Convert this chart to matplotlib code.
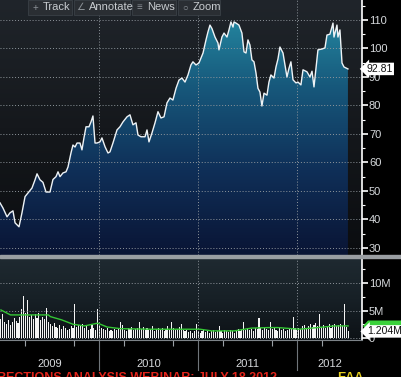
import matplotlib
matplotlib.use("Agg")
import matplotlib.pyplot as plt
import numpy as np
from matplotlib.colors import LinearSegmentedColormap
from matplotlib.patches import Rectangle, Polygon
from matplotlib.ticker import MultipleLocator, FixedLocator

plt.rcParams["font.family"] = ["Liberation Sans", "DejaVu Sans"]

# closing price, time in decimal years
price_t = [
    2009.000, 2009.030, 2009.071, 2009.101, 2009.131, 2009.152, 2009.192, 2009.222,
    2009.253, 2009.283, 2009.323, 2009.354, 2009.374, 2009.404, 2009.434, 2009.465,
    2009.505, 2009.535, 2009.566, 2009.586, 2009.606, 2009.636, 2009.667, 2009.687,
    2009.717, 2009.737, 2009.758, 2009.778, 2009.808, 2009.828, 2009.848, 2009.869,
    2009.899, 2009.919, 2009.939, 2009.960, 2009.980, 2010.010, 2010.030, 2010.061,
    2010.091, 2010.111, 2010.141, 2010.182, 2010.212, 2010.242, 2010.283, 2010.313,
    2010.343, 2010.374, 2010.394, 2010.424, 2010.465, 2010.485, 2010.505, 2010.535,
    2010.566, 2010.596, 2010.626, 2010.657, 2010.687, 2010.717, 2010.747, 2010.778,
    2010.808, 2010.838, 2010.869, 2010.899, 2010.929, 2010.949, 2010.980, 2011.010,
    2011.051, 2011.081, 2011.101, 2011.121, 2011.141, 2011.172, 2011.202, 2011.212,
    2011.242, 2011.263, 2011.293, 2011.313, 2011.333, 2011.354, 2011.364, 2011.384,
    2011.414, 2011.444, 2011.465, 2011.485, 2011.505, 2011.525, 2011.545, 2011.566,
    2011.586, 2011.606, 2011.626, 2011.646, 2011.667, 2011.697, 2011.717, 2011.737,
    2011.768, 2011.788, 2011.808, 2011.828, 2011.859, 2011.899, 2011.919, 2011.939,
    2011.960, 2011.990, 2012.010, 2012.040, 2012.061, 2012.101, 2012.131, 2012.152,
    2012.172, 2012.212, 2012.253, 2012.283, 2012.303, 2012.333, 2012.364, 2012.374,
    2012.404, 2012.414, 2012.434, 2012.455, 2012.475, 2012.515,
]
price = [
    45.8, 44.0, 40.9, 42.3, 43.0, 38.8, 37.4, 42.3,
    48.0, 49.3, 51.0, 53.9, 56.0, 53.9, 53.0, 49.6,
    49.6, 54.0, 55.0, 56.7, 55.0, 56.3, 56.7, 58.4,
    63.3, 66.1, 65.4, 66.8, 66.8, 64.4, 68.6, 72.5,
    72.5, 74.2, 76.3, 66.8, 66.8, 67.2, 68.6, 65.5,
    63.3, 63.7, 66.8, 71.4, 72.5, 74.2, 76.0, 76.7,
    73.2, 73.9, 69.6, 69.0, 69.0, 71.4, 67.2, 70.3,
    73.9, 77.8, 75.6, 76.0, 80.9, 82.6, 81.9, 86.0,
    88.9, 89.6, 88.2, 90.7, 94.2, 95.3, 94.2, 94.9,
    98.4, 103.0, 105.8, 108.2, 107.0, 104.0, 101.9, 99.5,
    104.0, 105.4, 104.0, 106.5, 109.3, 107.5, 109.3, 108.9,
    108.2, 105.4, 98.8, 98.4, 103.0, 101.2, 96.0, 95.3,
    91.4, 86.0, 84.7, 79.8, 84.3, 83.6, 88.2, 90.7,
    89.6, 93.5, 96.3, 100.5, 98.4, 90.0, 93.0, 95.3,
    89.0, 87.9, 88.2, 87.2, 92.5, 91.8, 90.0, 92.0,
    86.5, 99.5, 99.8, 100.2, 104.7, 105.0, 108.9, 104.0,
    108.2, 104.0, 106.5, 94.9, 93.5, 92.8,
]

# weekly volume, millions of shares, from the first week of 2009
volume = [
    3.5, 4.4, 3.0, 2.6, 3.2, 2.4, 2.9, 3.6, 3.1, 2.7, 3.9,
    5.3, 7.7, 4.6, 6.9,
    3.8, 4.2, 3.5, 4.4, 3.7, 4.6, 3.2, 3.9, 3.4, 5.4,
    3.0, 2.6, 2.2, 2.8, 2.0, 1.8, 2.4, 1.6, 2.1, 1.9, 1.5, 1.7, 2.2, 1.8,
    6.2,
    2.0, 2.3, 2.1, 2.5, 1.9, 2.2, 1.4, 1.6, 2.4, 1.8, 1.5,
    5.3,
    2.1, 1.8, 1.6, 1.4, 1.9, 1.3, 1.5, 1.2, 1.7, 1.4, 1.9,
    3.0,
    2.4, 1.5, 1.3, 1.8, 1.6, 2.0, 1.4, 1.7, 1.9,
    3.0,
    1.6, 2.0, 1.5, 1.8, 1.4, 1.7, 2.1, 1.3, 1.6, 1.9, 1.5, 1.8, 1.2, 1.6, 2.2, 1.5,
    3.0,
    1.8, 1.4, 1.6, 2.0,
    2.6,
    1.5, 1.2, 1.4, 1.1, 1.3, 1.0, 1.2,
    2.5,
    1.3, 1.0, 1.2, 1.4, 1.1, 1.3, 0.9, 1.2, 1.5, 1.1, 1.3,
    2.2,
    1.2, 1.0, 1.4, 1.3, 1.1, 1.5, 1.2, 1.0, 1.3, 1.6, 1.2, 1.4,
    2.9,
    1.5, 1.8, 1.4, 1.7, 1.3, 1.9, 1.6,
    3.7,
    1.8, 1.5, 2.0, 1.7, 1.4,
    3.0,
    1.6, 1.9, 1.5, 1.3, 1.8, 1.4, 1.7, 1.2, 1.5, 1.9, 1.6,
    3.9,
    1.8, 1.5, 1.9, 1.6, 2.1, 2.4, 1.8, 2.2, 2.6, 2.0, 2.3, 2.7, 2.1,
    4.4,
    2.0, 2.4, 1.8, 2.2, 2.6, 1.9, 2.3, 2.5, 2.1, 2.4, 2.6, 2.2,
    6.2, 2.0, 1.2,
]

# volume moving average (week index, millions)
ma_week = [0, 5, 10, 25, 26, 32, 38, 44, 51, 56, 63, 79, 105, 111, 123, 132,
           141, 146, 157, 167, 176, 183]
ma_vol = [5.1, 4.2, 4.2, 4.2, 3.9, 3.3, 2.5, 2.2, 2.7, 2.0, 1.7, 1.6, 1.6, 1.3,
          1.3, 1.8, 1.9, 1.9, 1.6, 1.9, 2.2, 2.2]

years = ["2009", "2010", "2011", "2012"]
year_pos = [2009.5, 2010.5, 2011.5, 2012.33]
year_bounds = [2010, 2011, 2012]
price_ticks = [30, 40, 50, 60, 70, 80, 90, 100, 110]
vol_ticks = [0, 5, 10]
vol_labels = ["0", "5M", "10M"]
last_price = 92.81
last_volume = 1.204

W, H = 402, 377
X0, X1 = 2009.0, 2012.657
TXT = "#d6d9dc"
GRID = "#8f969c"


def fx(px):
    return px / W


def fy(py):
    return 1 - py / H


def wk(i):
    return 2009 + (np.asarray(i) * 7 + 3.5) / 365.25


fig = plt.figure(figsize=(W / 100, H / 100), dpi=100, facecolor="black")
ax = fig.add_axes([0, fy(255), fx(362), 255 / H])
axv = fig.add_axes([0, fy(340), fx(362), 82 / H])

# ---- price panel
ylo, yhi = 27.5, 117.0
ax.set_xlim(X0, X1)
ax.set_ylim(ylo, yhi)
grad = np.linspace(0, 1, 256).reshape(-1, 1)
bg = LinearSegmentedColormap.from_list("bg", ["#0b0d10", "#15181c", "#20252b"])
ax.imshow(grad, extent=[X0, X1, ylo, yhi], origin="lower", aspect="auto",
          cmap=bg, zorder=0)
fill_cmap = LinearSegmentedColormap.from_list(
    "fill", ["#0a1535", "#0f2f58", "#17597c", "#2791a8"])
im = ax.imshow(grad, extent=[X0, X1, ylo, yhi], origin="lower", aspect="auto",
               cmap=fill_cmap, zorder=1)
poly = ax.fill_between(price_t, price, ylo, color="none", lw=0)
im.set_clip_path(poly.get_paths()[0], transform=ax.transData)
ax.plot(price_t, price, color="#eef3f6", lw=1.0, zorder=4)

for v in price_ticks:
    ax.axhline(v, color=GRID, lw=0.7, ls=(0, (1, 2)), zorder=3)
for b in year_bounds:
    ax.axvline(b, color=GRID, lw=0.7, ls=(0, (1, 2)), zorder=3)

ax.yaxis.tick_right()
ax.yaxis.set_major_locator(FixedLocator(price_ticks))
ax.yaxis.set_minor_locator(MultipleLocator(5))
ax.tick_params(axis="y", which="major", colors="white", labelcolor=TXT,
               length=4, width=1.2, pad=1, labelsize=8)
ax.tick_params(axis="y", which="minor", colors="white", length=2.5, width=0.8)
ax.set_xticks([])
for s in ["left", "top", "bottom"]:
    ax.spines[s].set_visible(False)
ax.spines["right"].set_color("white")
ax.spines["right"].set_linewidth(1.2)

ax.text(1.012, last_price, f"{last_price:.2f}", transform=ax.get_yaxis_transform(),
        ha="left", va="center", fontsize=7.5, color="#111111",
        bbox=dict(boxstyle="larrow,pad=0.12", fc="white", ec="none"), zorder=10)

# ---- volume panel
vlo, vhi = -0.36, 14.55
axv.set_xlim(X0, X1)
axv.set_ylim(vlo, vhi)
bgv = LinearSegmentedColormap.from_list("bgv", ["#0d1216", "#172026", "#1f2a31"])
axv.imshow(grad, extent=[X0, X1, vlo, vhi], origin="lower", aspect="auto",
           cmap=bgv, zorder=0)
axv.bar(wk(np.arange(len(volume))), volume, width=1.1 / 99, color="#f4f4f4",
        lw=0, zorder=2)
axv.plot(wk(ma_week), ma_vol, color="#35c635", lw=1.0, zorder=4)
for v in vol_ticks:
    axv.axhline(v, color=GRID, lw=0.7, ls=(0, (1, 2)), zorder=3)
for b in year_bounds:
    axv.axvline(b, color=GRID, lw=0.7, ls=(0, (1, 2)), zorder=3)

axv.yaxis.tick_right()
axv.yaxis.set_major_locator(FixedLocator(vol_ticks))
axv.set_yticklabels(vol_labels)
axv.yaxis.set_minor_locator(MultipleLocator(2.5))
axv.tick_params(axis="y", which="major", colors="white", labelcolor=TXT,
                length=4, width=1.2, pad=1, labelsize=8)
axv.tick_params(axis="y", which="minor", colors="white", length=2.5, width=0.8)

# date axis: quarter ticks, year separators below
quarters = [y + q for y in [2009, 2010, 2011, 2012] for q in (0.25, 0.75)
            if y + q < X1]
axv.set_xticks(quarters)
axv.set_xticklabels([])
axv.tick_params(axis="x", colors="#9aa0a5", length=4, width=0.8)
for s in ["left", "top"]:
    axv.spines[s].set_visible(False)
axv.spines["bottom"].set_color("#7d8388")
axv.spines["right"].set_color("white")
axv.spines["right"].set_linewidth(1.2)
tr = axv.get_xaxis_transform()
for b in year_bounds:
    axv.plot([b, b], [0, -0.37], transform=tr, color="#6f757a", lw=0.8,
             clip_on=False)
for lab, p in zip(years, year_pos):
    axv.text(p, -0.29, lab, transform=tr, ha="center", va="center",
             fontsize=8, color=TXT)

# moving-average flag, mostly hidden behind the volume flag
flag = [(363, 326), (368, 320.5), (402, 320.5), (402, 331), (368, 331)]
fig.patches.append(Polygon([(fx(a), fy(b)) for a, b in flag], closed=True,
                           transform=fig.transFigure, fc="#3bd23b", ec="none",
                           zorder=8))
vol_y = axv.transData.transform((X0, last_volume))[1] / fig.bbox.height
fig.text(fx(367), vol_y, f"{last_volume:.3f}M", ha="left", va="center",
         fontsize=7.5, color="#111111", zorder=10,
         bbox=dict(boxstyle="larrow,pad=0.12", fc="white", ec="none"))

# separator between panels
fig.patches.append(Rectangle((0, fy(258)), 1, 3 / H, transform=fig.transFigure,
                             color="#9a9ea2", zorder=5))

# toolbar
buttons = [("+", "Track", 28, 72), ("∠", "Annotate", 74, 130),
           ("≡", "News", 132, 176), ("○", "Zoom", 178, 220)]
for icon, lab, x0b, x1b in buttons:
    fig.patches.append(Rectangle((fx(x0b), fy(15)), fx(x1b - x0b), 15 / H,
                                 transform=fig.transFigure, fc="#2a2e33",
                                 ec="#3a4046", lw=0.6, zorder=6))
    fig.text(fx(x0b + 7), fy(7.5), icon, ha="center", va="center", fontsize=7,
             color="#8a9096", zorder=7)
    fig.text(fx(x0b + 15), fy(7.5), lab, ha="left", va="center", fontsize=8,
             color="#c8ccd0", zorder=7)

# banner cut off at the bottom edge
fig.text(fx(-3), fy(372), "RECTIONS ANALYSIS WEBINAR: JULY 18 2012", ha="left",
         va="top", fontsize=9, fontweight="bold", color="#e3241b")
fig.text(fx(337), fy(372), "EAA", ha="left", va="top", fontsize=9,
         fontweight="bold", color="#e6cf1e")

fig.savefig("out.png", dpi=100, facecolor="black")
